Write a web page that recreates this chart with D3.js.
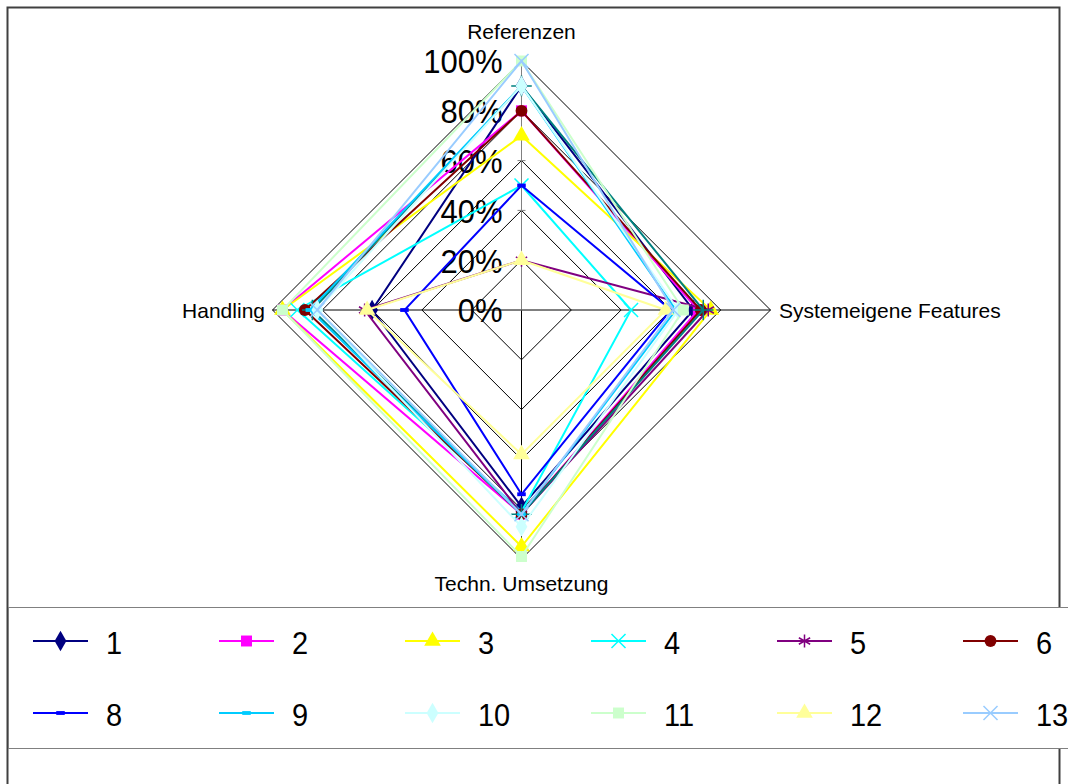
<!DOCTYPE html>
<html>
<head>
<meta charset="utf-8">
<script src="https://cdn.jsdelivr.net/npm/d3@7"></script>
<style>
  html, body { margin: 0; padding: 0; background: #fff; }
  svg { display: block; font-family: "Liberation Sans", Arial, sans-serif; }
</style>
</head>
<body>
<svg id="chart" width="1068" height="784"></svg>
<script>
// Radar axes (clockwise from the top)
const axes = ["Referenzen", "Systemeigene Features", "Techn. Umsetzung", "Handling"];

// Radial tick labels
const ticks = [0, 0.2, 0.4, 0.6, 0.8, 1.0];

// Series names
const seriesNames = ["1", "2", "3", "4", "5", "6", "7", "8", "9", "10", "11", "12", "13"];

// Scores per series, ordered like `axes`
const s1  = [0.90, 0.69, 0.79, 0.60];
const s2  = [0.80, 0.71, 0.82, 0.96];
const s3  = [0.70, 0.76, 0.95, 0.96];
const s4  = [0.50, 0.44, 0.81, 0.90];
const s5  = [0.20, 0.75, 0.82, 0.63];
const s6  = [0.80, 0.72, 0.82, 0.87];
const s7  = [0.90, 0.73, 0.82, 0.84];
const s8  = [0.50, 0.60, 0.74, 0.47];
const s9  = [0.90, 0.62, 0.82, 0.85];
const s10 = [0.90, 0.63, 0.87, 0.82];
const s11 = [1.00, 0.65, 0.99, 0.96];
const s12 = [0.20, 0.58, 0.58, 0.62];
const s13 = [1.00, 0.61, 0.82, 0.82];
const seriesValues = [s1, s2, s3, s4, s5, s6, s7, s8, s9, s10, s11, s12, s13];

const colors = ["#000080", "#FF00FF", "#FFFF00", "#00FFFF", "#800080", "#800000",
                "#008080", "#0000FF", "#00CCFF", "#CCFFFF", "#CCFFCC", "#FFFF99", "#99CCFF"];
const markers = ["diamond", "square", "triangle", "times", "asterisk", "circle",
                 "plus", "dash", "dash", "diamond", "square", "triangle", "times"];

const W = 1068;
const svg = d3.select("#chart");

// Outer frame
svg.append("rect")
  .attr("x", 7.5).attr("y", 7.5).attr("width", 1052).attr("height", 800)
  .attr("fill", "none").attr("stroke", "#404040").attr("stroke-width", 2);

const cx = 521.5, cy = 310;
const r = d3.scaleLinear().domain([0, 1]).range([0, 249]);
const angle = i => -Math.PI / 2 + i * (2 * Math.PI / axes.length);
const pt = (v, i) => [cx + r(v) * Math.cos(angle(i)), cy + r(v) * Math.sin(angle(i))];

const g = svg.append("g");

// Grid diamonds
const gridLine = d3.line();
ticks.filter(t => t > 0).forEach(t => {
  const pts = axes.map((a, i) => pt(t, i));
  pts.push(pts[0]);
  g.append("path").attr("d", gridLine(pts))
    .attr("fill", "none").attr("stroke", "#000").attr("stroke-width", 1);
});

// Spokes
axes.forEach((a, i) => {
  const [x, y] = pt(1, i);
  g.append("line").attr("x1", cx).attr("y1", cy).attr("x2", x).attr("y2", y)
    .attr("stroke", i === 0 ? "#808080" : "#000").attr("stroke-width", 1);
});

// Tick marks and labels on the vertical axis
ticks.forEach(t => {
  const [x, y] = pt(t, 0);
  g.append("line").attr("x1", x - 4).attr("x2", x + 4).attr("y1", y).attr("y2", y)
    .attr("stroke", "#808080").attr("stroke-width", 1);
  g.append("text")
    .attr("transform", `translate(${x - 19},${y + 1}) scale(1,1.08)`)
    .attr("text-anchor", "end").attr("dominant-baseline", "central")
    .attr("font-size", 31).attr("fill", "#000")
    .text(d3.format(".0%")(t));
});

// Axis names
const labelPos = [
  { x: cx, y: 31, anchor: "middle" },
  { x: 779, y: cy, anchor: "start" },
  { x: cx, y: 583, anchor: "middle" },
  { x: 265, y: cy, anchor: "end" }
];
axes.forEach((a, i) => {
  g.append("text").attr("x", labelPos[i].x).attr("y", labelPos[i].y)
    .attr("text-anchor", labelPos[i].anchor).attr("dominant-baseline", "central")
    .attr("font-size", 21).attr("fill", "#000").text(a);
});

// Marker shapes
const dashSymbol = {
  draw(ctx, size) {
    const w = Math.sqrt(size) * 0.9, h = w * 0.45;
    ctx.rect(-w / 2, -h / 2, w, h);
  }
};
const symbolTypes = {
  diamond: d3.symbolDiamond, square: d3.symbolSquare, triangle: d3.symbolTriangle,
  circle: d3.symbolCircle, times: d3.symbolTimes, asterisk: d3.symbolAsterisk,
  plus: d3.symbolPlus, dash: dashSymbol
};
const strokeOnly = new Set(["times", "asterisk", "plus"]);
const symbolSize = { diamond: 120, square: 120, triangle: 120, circle: 110, times: 130,
                     asterisk: 120, plus: 140, dash: 90 };

function drawMarker(sel, type, color, x, y) {
  const p = sel.append("path")
    .attr("d", d3.symbol().type(symbolTypes[type]).size(symbolSize[type])())
    .attr("transform", `translate(${x},${y})`);
  if (strokeOnly.has(type)) {
    p.attr("fill", "none").attr("stroke", color).attr("stroke-width", 1.5);
  } else {
    p.attr("fill", color).attr("stroke", "none");
  }
}

// Series polygons with markers
const radarLine = d3.line().curve(d3.curveLinearClosed);
seriesValues.forEach((vals, k) => {
  const pts = vals.map((v, i) => pt(v, i));
  g.append("path").attr("d", radarLine(pts))
    .attr("fill", "none").attr("stroke", colors[k]).attr("stroke-width", 2);
  pts.forEach(([x, y]) => drawMarker(g, markers[k], colors[k], x, y));
});

// Legend: seven columns per row; the box runs past the right edge,
// so entries that start beyond the canvas are not drawn
const legend = svg.append("g");
legend.append("rect")
  .attr("x", 8.5).attr("y", 607.5).attr("width", 1100).attr("height", 141)
  .attr("fill", "#fff").attr("stroke", "#808080").attr("stroke-width", 1);
const colX = d3.scaleLinear().domain([0, 1]).range([33, 219]);
const rowY = [641, 713];
seriesNames.forEach((name, k) => {
  const row = k < 7 ? 0 : 1;
  const col = k < 7 ? k : k - 7;
  const x0 = colX(col), y0 = rowY[row];
  if (x0 > W) return;
  legend.append("line").attr("x1", x0).attr("x2", x0 + 55).attr("y1", y0).attr("y2", y0)
    .attr("stroke", colors[k]).attr("stroke-width", 2);
  drawMarker(legend, markers[k], colors[k], x0 + 27.5, y0);
  legend.append("text")
    .attr("transform", `translate(${x0 + 73},${y0 + 1}) scale(1,1.1)`)
    .attr("dominant-baseline", "central").attr("font-size", 29).attr("fill", "#000")
    .text(name);
});
</script>
</body>
</html>
